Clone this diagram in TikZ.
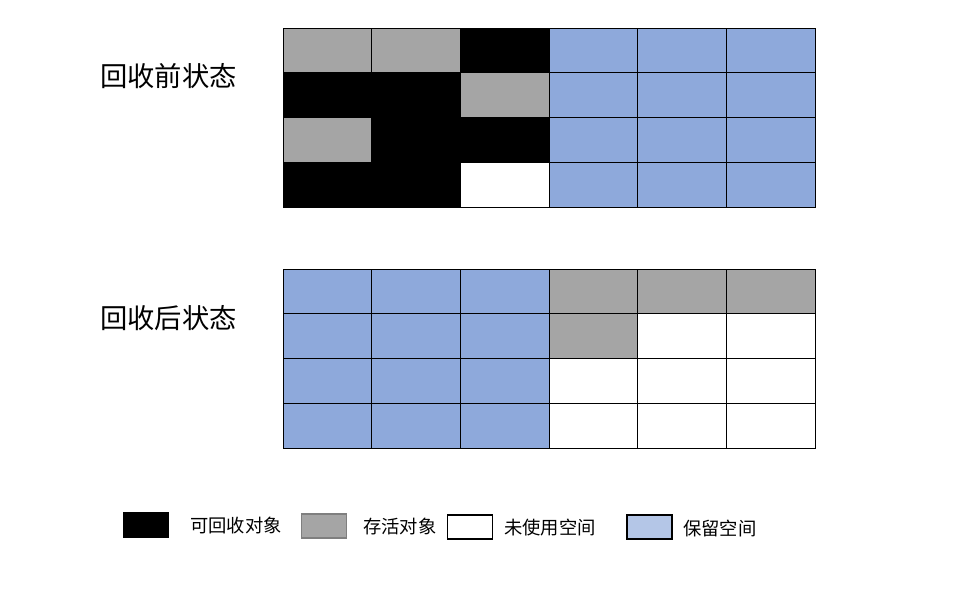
\documentclass[tikz,border=0pt]{standalone}
\usepackage{fontspec}
\newfontfamily\cjk{Noto Sans CJK SC}
\definecolor{G}{HTML}{A5A5A5}
\definecolor{B}{HTML}{8EA9DB}
\colorlet{K}{black}
\colorlet{W}{white}
\definecolor{blegend}{HTML}{B4C6E7}
\definecolor{gborder}{HTML}{7F7F7F}
\begin{document}
\begin{tikzpicture}[x=1pt,y=-1pt,
  cell/.style={draw=black,line width=0.8pt},
  title/.style={font=\cjk\fontsize{27.3}{32}\selectfont,inner sep=0pt},
  legtext/.style={font=\cjk\fontsize{18.3}{22}\selectfont,inner sep=0pt,anchor=west},
  legbox/.style={line width=1.6pt,minimum width=45pt,minimum height=24pt,inner sep=0pt}]
\useasboundingbox (0,0) rectangle (970,602);
\def\cw{88.667}
\def\rh{44.75}
% top grid
\foreach \row/\cols in {0/{G,G,K,B,B,B},1/{K,K,G,B,B,B},2/{G,K,K,B,B,B},3/{K,K,W,B,B,B}}{
  \foreach \c [count=\i from 0] in \cols {
    \path[cell,fill=\c] (283+\i*\cw,28+\row*\rh) rectangle ++(\cw,\rh);
  }
}
% bottom grid
\foreach \row/\cols in {0/{B,B,B,G,G,G},1/{B,B,B,G,W,W},2/{B,B,B,W,W,W},3/{B,B,B,W,W,W}}{
  \foreach \c [count=\i from 0] in \cols {
    \path[cell,fill=\c] (283+\i*\cw,269+\row*\rh) rectangle ++(\cw,\rh);
  }
}
\node[title] (t1) at (168.5,76) {回收前状态};
\node[title] (t2) at (168.5,318) {回收后状态};
% legend
\node[legbox,fill=black,draw=black] (l1) at (146,525) {};
\node[legtext] (lt1) at (190,526) {可回收对象};
\node[legbox,fill=G,draw=gborder] (l2) at (324,526) {};
\node[legtext] (lt2) at (363,526) {存活对象};
\node[legbox,fill=white,draw=black] (l3) at (470,527) {};
\node[legtext] (lt3) at (504,528) {未使用空间};
\node[legbox,fill=blegend,draw=black] (l4) at (649.5,527) {};
\node[legtext] (lt4) at (683,528) {保留空间};
\end{tikzpicture}
\end{document}
